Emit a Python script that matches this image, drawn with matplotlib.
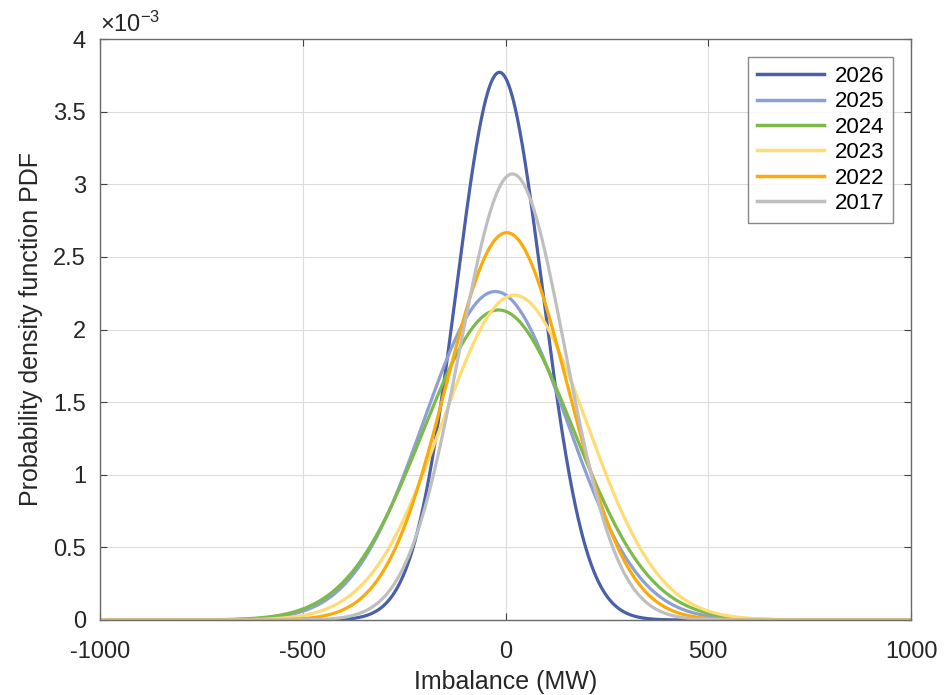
import numpy as np
import matplotlib.pyplot as plt
from matplotlib.ticker import FuncFormatter, MultipleLocator

plt.rcParams['font.family'] = ['Liberation Sans', 'DejaVu Sans']
plt.rcParams['axes.unicode_minus'] = False
plt.rcParams['mathtext.fontset'] = 'custom'
plt.rcParams['mathtext.rm'] = 'Liberation Sans'
plt.rcParams['mathtext.it'] = 'Liberation Sans'

# fitted normal distributions (MW)
years = ["2026", "2025", "2024", "2023", "2022", "2017"]
means = [-15, -25, -17, 22, 3, 17]
sigmas = [105.8, 176.4, 186.9, 178.4, 149.6, 129.9]
colors = ["#4a5fa8", "#8e9fd3", "#7cbb47", "#fedc73", "#fbaa0a", "#bfbfbf"]

x = np.linspace(-1000, 1000, 2001)

fig = plt.figure(figsize=(9.46, 6.95), dpi=100)
ax = fig.add_axes([100 / 946, 1 - 620 / 695, 811 / 946, 581 / 695])

for yr, mu, sd, col in zip(years, means, sigmas, colors):
    pdf = np.exp(-0.5 * ((x - mu) / sd) ** 2) / (sd * np.sqrt(2 * np.pi))
    ax.plot(x, pdf, color=col, lw=2.3, label=yr)

ax.set_xlim(-1000, 1000)
ax.set_ylim(0, 4e-3)
ax.xaxis.set_major_locator(MultipleLocator(500))
ax.yaxis.set_major_locator(MultipleLocator(0.5e-3))
ax.xaxis.set_major_formatter(FuncFormatter(lambda v, p: f"{v:g}"))
ax.yaxis.set_major_formatter(FuncFormatter(lambda v, p: f"{v * 1e3:g}"))

ax.grid(True, color="#dcdcdc", lw=0.8)
ax.set_axisbelow(True)
for s in ax.spines.values():
    s.set_color("#6a6a6a")
    s.set_linewidth(1.0)
ax.tick_params(direction="in", top=True, right=True, length=5, color="#404040",
               labelsize=17, labelcolor="#262626")
ax.tick_params(axis="x", pad=15)
ax.tick_params(axis="y", pad=10)

ax.set_xlabel("Imbalance (MW)", fontsize=18, color="#262626", va="top")
ax.set_ylabel("Probability density function PDF", fontsize=18, color="#262626")
ax.xaxis.set_label_coords(0.5, -0.086)
ax.yaxis.set_label_coords(-0.0705, 0.5)
ax.text(0.0, 1.004, r"$\times$10$^{-3}$", transform=ax.transAxes, fontsize=17,
        color="#262626", ha="left", va="bottom")

leg = ax.legend(loc="upper right", bbox_to_anchor=(0.978, 0.969),
                fontsize=16, frameon=True, fancybox=False, edgecolor="#6a6a6a",
                handlelength=3.0, labelspacing=0.2, borderpad=0.4,
                handletextpad=0.5, borderaxespad=0)
leg.get_frame().set_linewidth(1.0)
for ln in leg.get_lines():
    ln.set_linewidth(2.5)

fig.savefig("out.png", dpi=100)
